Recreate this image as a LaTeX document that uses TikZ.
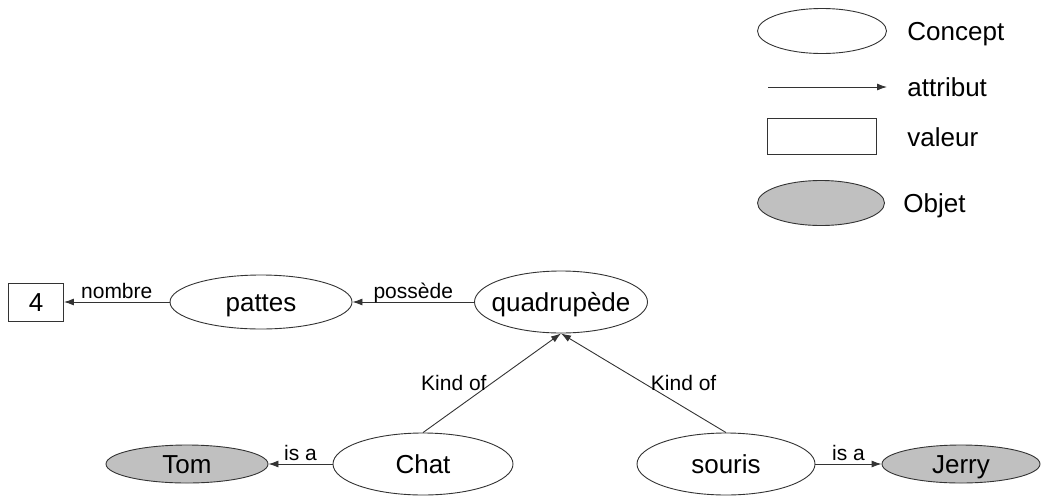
\documentclass[tikz,border=0pt]{standalone}
\usepackage{fontspec}
\setmainfont{Liberation Sans}
\usetikzlibrary{shapes.geometric,arrows.meta}
\definecolor{objgray}{RGB}{192,192,192}
\tikzset{
  concept/.style={draw=black!80, line width=.9pt, ellipse, inner xsep=-15pt, inner ysep=0pt,
    font=\fontsize{26}{30}\selectfont, text height=19pt, text depth=0pt},
  objet/.style={concept, fill=objgray},
  valeur/.style={draw=black!80, line width=.9pt, rectangle, inner sep=0pt,
    font=\fontsize{26}{30}\selectfont, text height=19pt, text depth=0pt},
  lbl/.style={font=\fontsize{21}{24}\selectfont, text height=15pt, text depth=0pt, inner sep=3pt},
  legtxt/.style={anchor=base west, inner sep=0pt, font=\fontsize{26}{30}\selectfont}
}
\begin{document}
\begin{tikzpicture}[x=1pt, y=-1pt, >={Latex[length=10pt,width=7pt]}, line width=.9pt]
\useasboundingbox (0,0) rectangle (1041,496);
% legende
\node[concept, minimum width=129pt, minimum height=45pt] (legconcept) at (822,31) {};
\node[legtxt] (tconcept) at (907,40) {Concept};
\coordinate (attA) at (768,87);
\coordinate (attB) at (887,87);
\draw[->, black!80] (attA) -- (attB);
\node[legtxt] (tattribut) at (907,96) {attribut};
\node[valeur, minimum width=109pt, minimum height=36pt] (legvaleur) at (822,136) {};
\node[legtxt] (tvaleur) at (907,146) {valeur};
\node[objet, minimum width=127pt, minimum height=45pt] (legobjet) at (821,203) {};
\node[legtxt] (tobjet) at (903,212) {Objet};

% reseau
\node[valeur, minimum width=55pt, minimum height=38pt] (quatre) at (36,302) {4};
\node[concept, minimum width=182pt, minimum height=54pt] (pattes) at (261,302) {pattes};
\node[concept, minimum width=173pt, minimum height=62pt] (quadrupede) at (561,302) {quadrupède};
\node[concept, minimum width=180pt, minimum height=62pt] (chat) at (423,464) {Chat};
\node[concept, minimum width=178pt, minimum height=62pt] (souris) at (726,464) {souris};
\node[objet, minimum width=162pt, minimum height=38pt] (tom) at (187,464) {Tom};
\node[objet, minimum width=158pt, minimum height=38pt] (jerry) at (961,464) {Jerry};

\draw[->, black!80] (pattes) -- node[lbl, above, black] {nombre} (quatre);
\draw[->, black!80] (quadrupede) -- node[lbl, above, black] {possède} (pattes);
\draw[->, black!80] (chat.north) -- node[lbl, left, xshift=-2pt, black] {Kind of} (quadrupede.south);
\draw[->, black!80] (souris.north) -- node[lbl, right, xshift=4pt, black] {Kind of} (quadrupede.south);
\draw[->, black!80] (chat) -- node[lbl, above, black] {is a} (tom);
\draw[->, black!80] (souris) -- node[lbl, above, black] {is a} (jerry);
\end{tikzpicture}
\end{document}
